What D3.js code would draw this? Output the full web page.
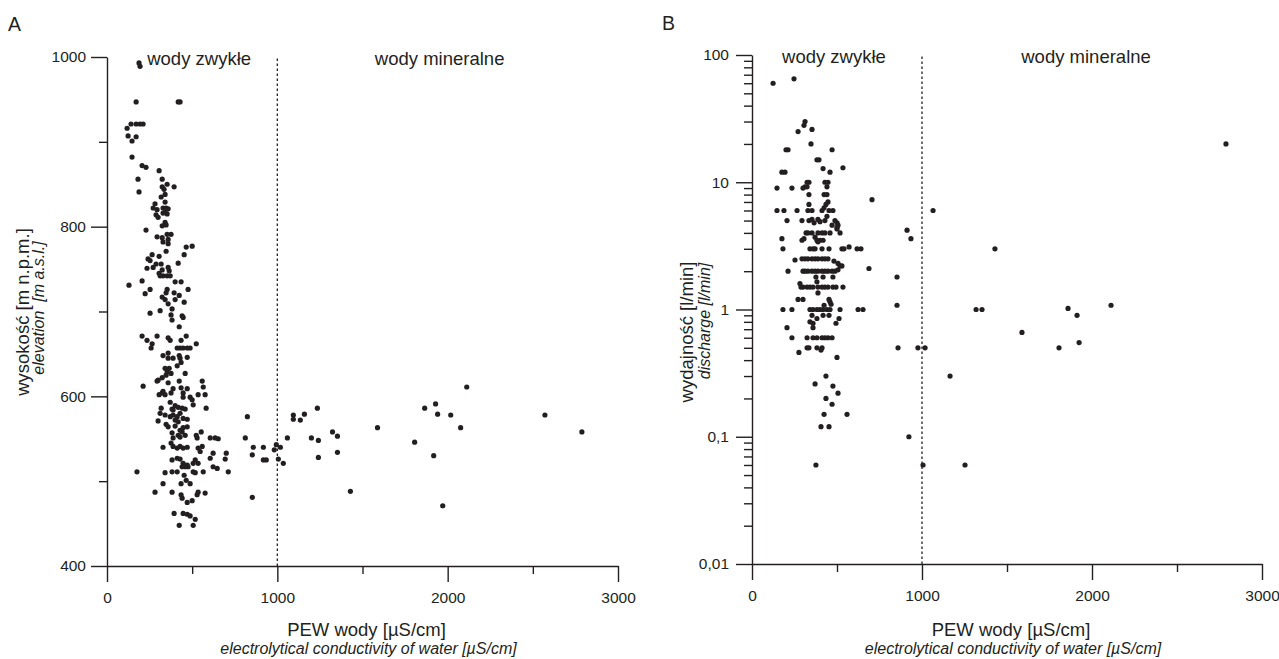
<!DOCTYPE html>
<html>
<head>
<meta charset="utf-8">
<script src="https://d3js.org/d3.v7.min.js"></script>
<style>
  body { margin: 0; background: #fff; }
  svg text { font-family: "Liberation Sans", Arial, Helvetica, sans-serif; fill: #231f20; }
</style>
</head>
<body>
<div id="chart"></div>
<script>
// --- data ---
const pewTicks = [0, 1000, 2000, 3000];
const pewMinorTicks = [500, 1500, 2500];
const elevationTicks = [400, 600, 800, 1000];
const elevationMinorTicks = [500, 700, 900];
const dischargeTicks = [0.01, 0.1, 1, 10, 100];
const dischargeTickLabels = ["0,01", "0,1", "1", "10", "100"];
const groupLabels = ["wody zwykłe", "wody mineralne"];
const boundaryPEW = 1000;

// panel A: [PEW µS/cm, elevation m a.s.l.]
const elevationPoints = [
  [188,993],[194,989],[171,947],[418,947],[429,947],[118,916],[141,921],[171,921],[194,921],[212,921],
  [124,907],[147,901],[171,906],[147,882],[206,872],[229,870],[306,866],[182,856],[324,856],[188,841],
  [324,847],[335,844],[353,850],[394,847],[341,838],[318,835],[341,829],[282,827],[271,822],[294,820],
  [329,822],[347,822],[359,821],[341,817],[329,816],[353,815],[288,814],[300,811],[341,805],[324,801],
  [347,802],[229,796],[294,788],[324,787],[353,791],[376,791],[329,782],[359,785],[359,780],[465,776],
  [500,777],[453,767],[418,757],[347,771],[306,765],[265,767],[241,762],[253,760],[235,751],[271,752],
  [288,756],[318,756],[324,749],[306,745],[312,742],[329,742],[353,742],[371,742],[365,748],[359,752],
  [206,736],[129,731],[253,726],[224,721],[353,726],[347,722],[324,717],[341,714],[359,709],[400,714],
  [394,722],[424,719],[453,711],[476,726],[400,735],[435,735],[382,703],[312,701],[253,698],[376,696],
  [441,695],[447,693],
  [382,690],[424,682],[206,671],[235,666],[265,662],[259,657],[294,671],[359,669],[371,666],[435,666],
  [465,671],[412,657],[429,657],[447,657],[471,657],[488,657],[524,662],[359,651],[329,648],[359,645],
  [388,645],[424,648],[429,645],[471,646],[435,640],[412,636],[341,633],[365,633],[353,629],[376,627],
  [347,625],[459,627],[300,619],[324,622],[294,618],[359,616],[424,618],[559,618],[212,612],[565,611],
  [388,609],[435,610],[471,609],[447,604],[447,599],[488,599],[500,596],[535,602],[576,602],[329,606],
  [324,604],[306,602],[341,602],[376,604],[506,590],[371,593],[400,589],[418,587],[441,586],[459,585],
  [382,585],[388,584],[318,586],[312,580],[582,586],[341,578],[371,576],[388,578],[412,576],[429,580],
  [447,574],[471,573],[400,572],[418,570],[300,571],[347,567],[359,564],[400,565],[824,576],[429,560],
  [447,563],[471,564],[441,558],[418,554],[459,554],[429,552],[524,554],[553,558],[529,551],[382,557],
  [388,551],[606,551],[635,551],[653,550],[812,551],[859,540],[329,540],[376,545],[388,541],[412,539],
  [429,541],[447,539],[471,540],[535,539],[559,541],[547,535],[623,533],[700,533],[606,527],[853,531],
  [694,526],[382,525],[412,527],[429,526],[447,521],[471,519],[441,517],[459,517],[476,517],[518,525],
  [535,521],[506,521],[623,517],[647,515],[176,511],[341,510],[382,511],[412,511],[453,507],[506,511],
  [518,510],[565,511],[712,511],[465,501],[329,497],[435,497],[488,497],[282,487],[382,487],[435,484],
  [529,484],[535,487],[576,486],[853,481],[441,480],[471,475],[500,477],[394,462],[447,462],[471,461],
  [488,459],[518,455],[424,448],[506,448],
  [918,540],[918,525],[935,525],[982,537],[994,543],[1018,540],[1006,526],[1035,521],[1059,551],[1094,578],
  [1094,573],[1135,572],[1159,579],[1200,551],[1241,548],[1235,586],[1241,528],[1324,558],[1353,553],[1353,534],
  [1429,488],[1588,563],[1806,546],[1865,586],[1929,591],[1941,579],[1918,530],[1971,471],[2018,578],[2076,563],
  [2112,611],[2571,578],[2788,558]
];

// panel B: [PEW µS/cm, discharge l/min]
const dischargePoints = [
  [124,60],[247,65],[312,30],[306,28],[271,25],[353,26],[347,20],[200,18],[212,18],[471,18],
  [382,15],[394,15],[535,13],[418,12.8],[459,12],[176,12],[194,12],
  [324,10],[335,10],[312,9.2],[324,9.2],[429,10],[447,10],[441,9.2],[147,9],[235,9],[300,9],
  [335,8],[424,8],[441,8],[706,7.3],[335,6.7],[435,6.7],[447,7],
  [147,6],[188,6],[265,6],[329,6],[353,6],[412,6],[424,6.3],[453,6],[476,6],[1065,6],
  [206,5],[294,5],[335,5],[353,5.1],[388,5.1],[429,5],[441,5.4],[488,5],[500,4.8],[365,4.8],
  [400,4.9],[471,4.6],[506,4.6],[500,4.4],[912,4.2],[935,3.6],
  [318,4],[329,4],[353,4],[388,4],[412,4],[429,4],[459,4],[500,4.3],[518,4],
  [176,3.6],[294,3.5],[306,3.6],[371,3.7],[382,3.5],[400,3.5],[418,3.5],[388,3.4],
  [182,3],[341,3],[359,3],[371,3],[412,3],[453,3],[529,3],[541,3],[571,3.1],[618,3],[641,3],[1429,3],
  [253,2.45],[294,2.5],[312,2.5],[329,2.5],[353,2.5],[371,2.5],[388,2.5],[412,2.5],[429,2.5],[447,2.5],
  [482,2.4],[506,2.3],[529,2.2],
  [212,2],[300,2],[312,2],[329,2],[353,2],[371,2],[388,2],[412,2],[429,2],[447,2],[471,2],[488,2],
  [506,2.05],[518,2.2],[688,2.1],
  [853,1.8],[376,1.8],[418,1.8],[476,1.8],[382,1.65],[282,1.6],
  [288,1.5],[300,1.5],[324,1.5],[341,1.5],[359,1.5],[388,1.5],[412,1.5],[429,1.5],[447,1.5],[476,1.5],
  [494,1.5],[535,1.5],[388,1.35],[271,1.2],[300,1.2],[453,1.2],[459,1.15],[853,1.08],
  [182,1],[235,1],[341,1],[359,1],[382,1],[400,1],[418,1],[441,1],[459,1],[518,1],[624,1],[653,1],
  [424,1.08],[465,1.1],
  [353,0.9],[418,0.9],[453,0.9],[382,0.85],[512,0.85],[494,0.78],[359,0.78],[359,0.72],[206,0.72],[341,0.8],
  [235,0.6],[324,0.6],[359,0.6],[382,0.6],[412,0.6],[429,0.6],[447,0.6],[471,0.6],
  [324,0.5],[335,0.5],[382,0.5],[412,0.5],[406,0.48],[276,0.46],[500,0.42],
  [435,0.3],[371,0.26],[476,0.25],[506,0.22],[435,0.2],[471,0.18],[424,0.15],[559,0.15],[406,0.12],
  [453,0.12],[376,0.06],
  [859,0.5],[976,0.5],[1018,0.5],[1165,0.3],[923,0.1],[1006,0.06],[2788,20],[1318,1],[1353,1],
  [1859,1.02],[1912,0.9],[2112,1.08],[1588,0.66],[1806,0.5],[1924,0.55],[1253,0.06]
];

// --- drawing ---
const W = 1279, H = 659;
const ink = "#231f20";

const svg = d3.select("#chart").append("svg")
  .attr("width", W)
  .attr("height", H);

// minor ticks of the log axis: 2..9 in every decade
const logMinorTicks = [];
[0.01, 0.1, 1, 10].forEach(d => {
  for (let k = 2; k <= 9; k++) logMinorTicks.push(d * k);
});

function drawPanel(p) {
  const g = svg.append("g").style("color", ink);

  const x = d3.scaleLinear().domain([0, 3000]).range(p.xRange);
  const y = p.log
    ? d3.scaleLog().domain([0.01, 100]).range(p.yRange)
    : d3.scaleLinear().domain([400, 1000]).range(p.yRange);

  // boundary between ordinary and mineral waters
  g.append("line")
    .attr("x1", x(boundaryPEW)).attr("x2", x(boundaryPEW))
    .attr("y1", p.yRange[0]).attr("y2", p.yRange[1])
    .attr("stroke", ink)
    .attr("stroke-width", 1.3)
    .attr("stroke-dasharray", "2.5,2.5");

  // x axis
  const xAxis = g.append("g")
    .attr("transform", `translate(0,${p.yRange[0]})`)
    .call(d3.axisBottom(x).tickValues(pewTicks).tickSize(16).tickSizeOuter(0)
      .tickPadding(10).tickFormat(d3.format("d")));
  g.append("g")
    .attr("transform", `translate(0,${p.yRange[0]})`)
    .call(d3.axisBottom(x).tickValues(pewMinorTicks).tickSize(8).tickFormat(""))
    .call(s => s.select(".domain").remove());

  // y axis
  let yAx = d3.axisLeft(y).tickSize(16).tickSizeOuter(0).tickPadding(p.yPad);
  if (p.log) {
    yAx = yAx.tickValues(dischargeTicks).tickFormat((d, i) => dischargeTickLabels[i]);
  } else {
    yAx = yAx.tickValues(elevationTicks).tickFormat(d3.format("d"));
  }
  const yAxis = g.append("g")
    .attr("transform", `translate(${p.xRange[0]},0)`)
    .call(yAx);
  g.append("g")
    .attr("transform", `translate(${p.xRange[0]},0)`)
    .call(d3.axisLeft(y).tickValues(p.log ? logMinorTicks : elevationMinorTicks)
      .tickSize(8).tickFormat(""))
    .call(s => s.select(".domain").remove());

  g.selectAll(".domain, .tick line").attr("stroke-width", 1.4);
  [xAxis, yAxis].forEach(a => a.selectAll("text").style("font-size", "15.5px"));

  // points
  g.append("g")
    .selectAll("circle")
    .data(p.points)
    .enter()
    .append("circle")
    .attr("cx", d => x(d[0]))
    .attr("cy", d => y(d[1]))
    .attr("r", 2.6)
    .attr("fill", ink);

  // group labels
  g.selectAll(".group")
    .data(groupLabels)
    .enter()
    .append("text")
    .attr("class", "group")
    .attr("x", (d, i) => x(p.groupX[i]))
    .attr("y", p.groupY)
    .attr("text-anchor", "middle")
    .style("font-size", "18.5px")
    .text(d => d);

  // x titles
  const xc = (p.xRange[0] + p.xRange[1]) / 2 + 4;
  g.append("text")
    .attr("x", xc).attr("y", 636)
    .attr("text-anchor", "middle")
    .style("font-size", "18.5px")
    .text("PEW wody [µS/cm]");
  g.append("text")
    .attr("x", xc + 2).attr("y", 654)
    .attr("text-anchor", "middle")
    .style("font-size", "16px")
    .style("font-style", "italic")
    .text("electrolytical conductivity of water [µS/cm]");

  // y titles
  g.append("text")
    .attr("transform", `translate(${p.yTitle[0]},${p.yTitle[1]}) rotate(-90)`)
    .attr("text-anchor", "middle")
    .style("font-size", "18.5px")
    .text(p.yLabel);
  g.append("text")
    .attr("transform", `translate(${p.ySub[0]},${p.ySub[1]}) rotate(-90)`)
    .attr("text-anchor", "middle")
    .style("font-size", "16px")
    .style("font-style", "italic")
    .style("white-space", "pre")
    .text(p.ySubLabel);

  // panel letter
  g.append("text")
    .attr("x", p.letterPos[0]).attr("y", p.letterPos[1])
    .style("font-size", "19.5px")
    .text(p.letter);
}

drawPanel({
  letter: "A", letterPos: [8, 31],
  xRange: [107, 618], yRange: [566, 57], yPad: 5, log: false,
  points: elevationPoints,
  groupX: [541, 1953], groupY: 65,
  yLabel: "wysokość [m n.p.m.]", yTitle: [29, 312],
  ySubLabel: "elevation  [m a.s.l.]", ySub: [44, 308]
});

drawPanel({
  letter: "B", letterPos: [662, 30],
  xRange: [752, 1262], yRange: [564, 55], yPad: 7, log: true,
  points: dischargePoints,
  groupX: [482, 1965], groupY: 63,
  yLabel: "wydajność [l/min]", yTitle: [693, 332],
  ySubLabel: "discharge [l/min]", ySub: [710, 321]
});
</script>
</body>
</html>
